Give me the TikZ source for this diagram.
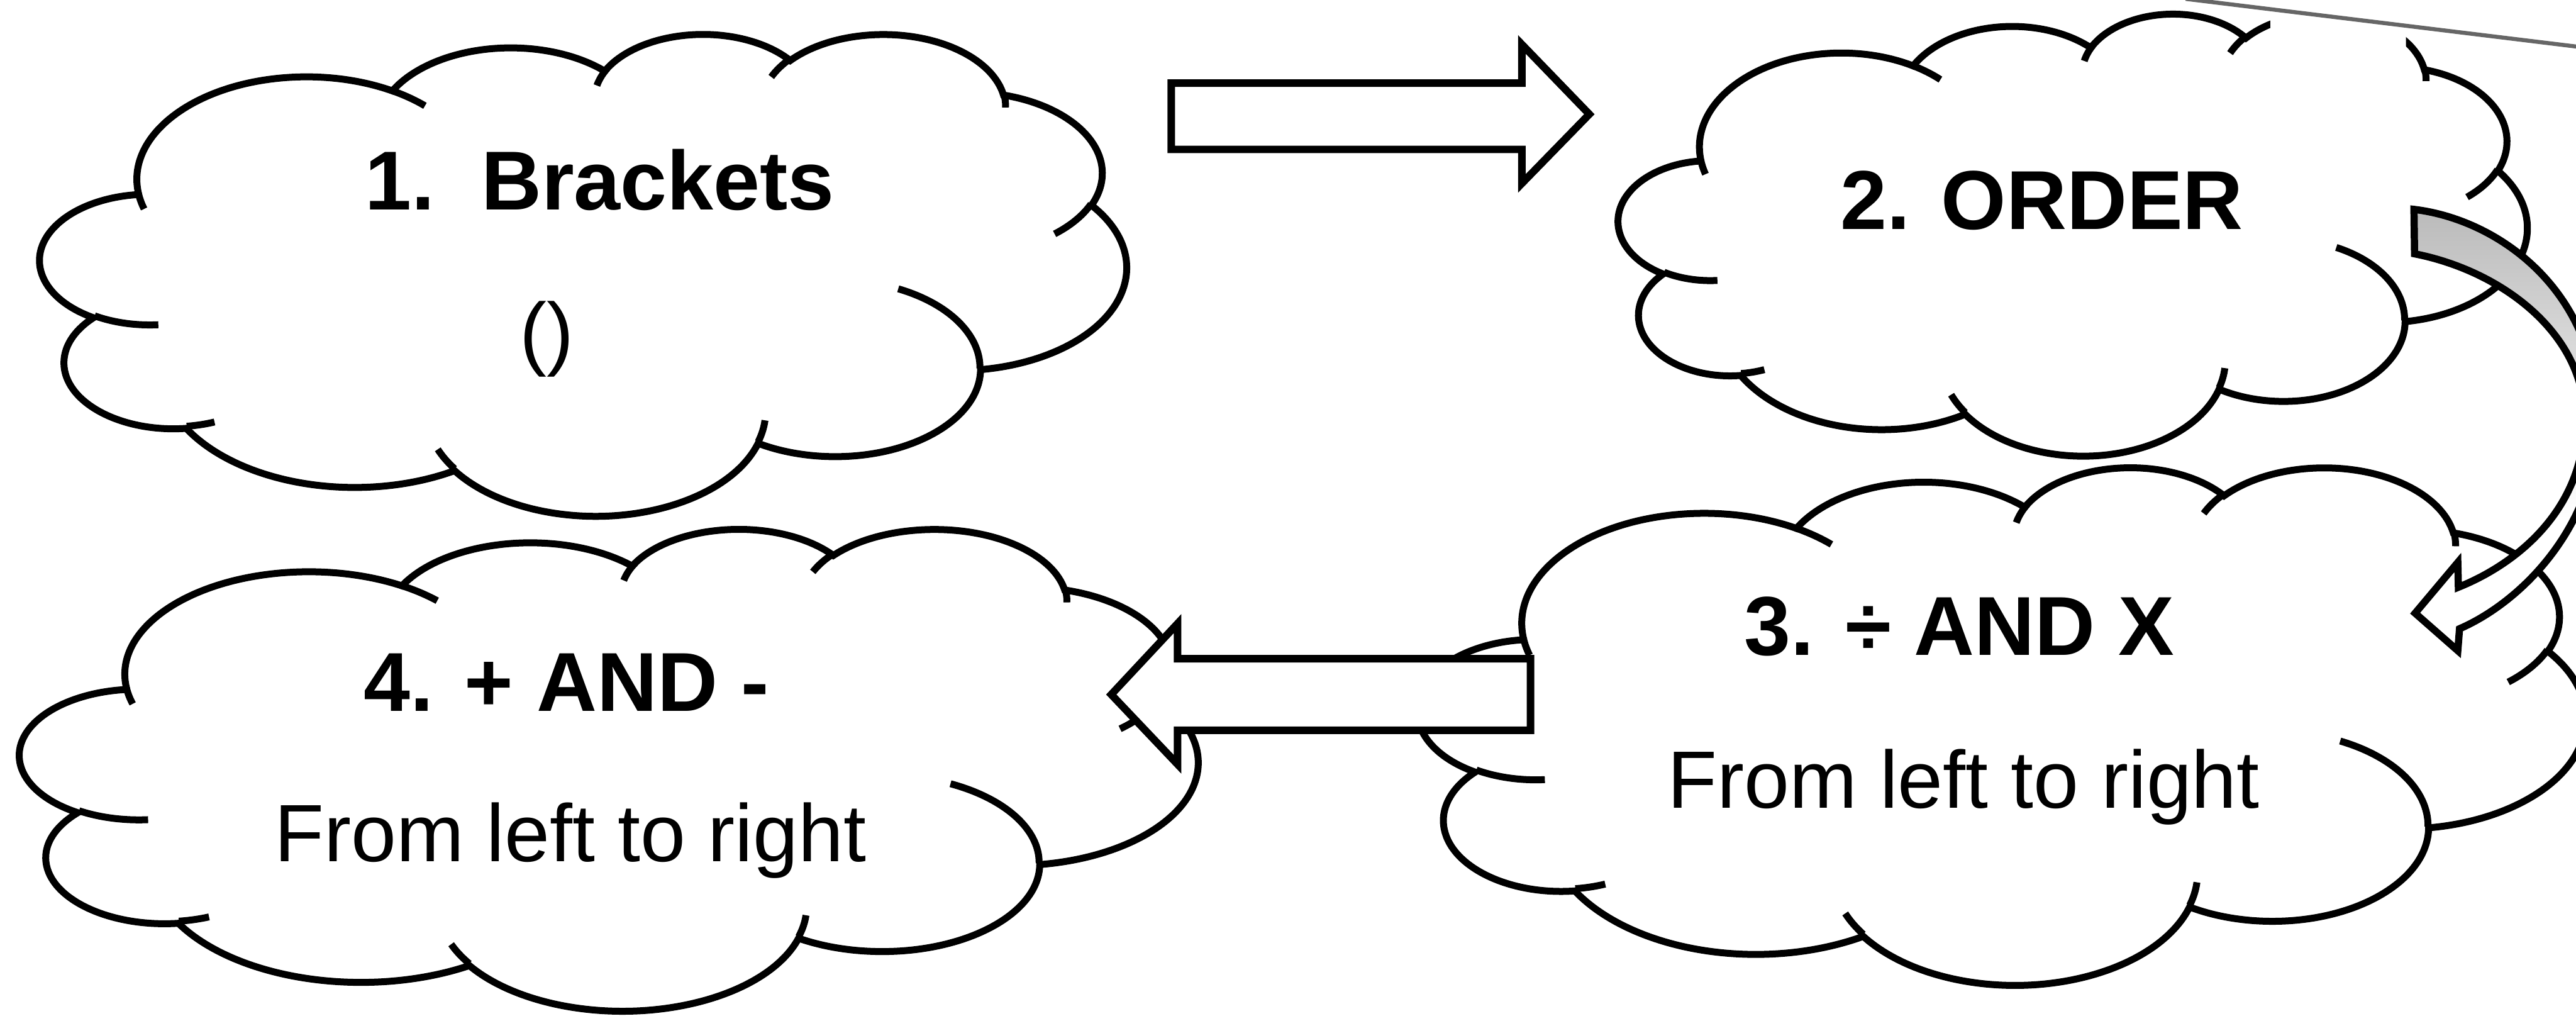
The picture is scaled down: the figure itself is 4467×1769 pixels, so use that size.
\documentclass[tikz,border=0pt]{standalone}
\usepackage{fontspec}
\setmainfont{Liberation Sans}

% Elliptical arc given in "visual" angles (as in DrawingML arcTo):
% #1 x radius, #2 y radius, #3 start angle, #4 sweep (degrees)
\newcommand\ooarc[4]{%
  \pgfmathsetmacro\oost{atan2((#1)*sin(#3),(#2)*cos(#3))}%
  \pgfmathsetmacro\ooen{atan2((#1)*sin((#3)+(#4)),(#2)*cos((#3)+(#4)))}%
  \pgfmathsetmacro\ooen{\oost+mod(\ooen-\oost+720,360)}%
  \pgfpatharc{\oost}{\ooen}{#1pt and #2pt}%
}

% Cloud outline in a 43.2 x 43.2 box (y pointing down)
\newcommand\cloudoutline{%
  \pgfpathmoveto{\pgfpointxy{3.900}{14.370}}%
  \ooarc{6.753}{9.190}{-190.48748}{123.78053}%
  \ooarc{5.333}{7.267}{-144.10238}{89.94523}%
  \ooarc{4.365}{5.945}{-145.80792}{99.72302}%
  \ooarc{4.857}{6.595}{-130.98607}{117.24173}%
  \ooarc{5.333}{7.273}{-78.70888}{109.02692}%
  \ooarc{6.775}{9.220}{-46.26725}{130.26900}%
  \ooarc{5.785}{7.867}{0.62502}{114.03333}%
  \ooarc{6.752}{9.215}{22.45160}{115.17255}%
  \ooarc{7.720}{10.543}{66.24263}{75.71102}%
  \ooarc{4.360}{5.918}{-274.94208}{146.73557}%
  \ooarc{4.345}{5.945}{-246.82850}{152.51885}%
  \pgfpathclose}

% The short inner strokes where the puffs meet
\newcommand\cloudticks{%
  \pgfpathmoveto{\pgfpointxy{4.693}{26.177}}\ooarc{4.345}{5.945}{86.74200}{26.42950}%
  \pgfpathmoveto{\pgfpointxy{6.928}{34.899}}\ooarc{4.360}{5.918}{73.61047}{11.44747}%
  \pgfpathmoveto{\pgfpointxy{16.478}{39.090}}\ooarc{6.752}{9.215}{137.62415}{14.08110}%
  \pgfpathmoveto{\pgfpointxy{28.827}{34.751}}\ooarc{6.752}{9.215}{6.45327}{15.99835}%
  \pgfpathmoveto{\pgfpointxy{34.129}{22.954}}\ooarc{5.785}{7.867}{-70.29235}{70.91737}%
  \pgfpathmoveto{\pgfpointxy{41.798}{15.354}}\ooarc{5.333}{7.273}{30.31803}{27.75150}%
  \pgfpathmoveto{\pgfpointxy{38.324}{5.426}}\ooarc{4.857}{6.595}{-13.74433}{14.85890}%
  \pgfpathmoveto{\pgfpointxy{29.078}{3.952}}\ooarc{4.857}{6.595}{-149.18145}{18.19537}%
  \pgfpathmoveto{\pgfpointxy{22.141}{4.720}}\ooarc{4.365}{5.945}{-163.49427}{19.50482}%
  \pgfpathmoveto{\pgfpointxy{14.000}{5.192}}\ooarc{6.753}{9.190}{-66.70695}{12.31935}%
  \pgfpathmoveto{\pgfpointxy{4.127}{15.789}}\ooarc{6.753}{9.190}{157.65435}{11.85817}%
}

% Curved arrow from the ORDER cloud round to the third cloud
\newcommand\curvarrowpath{(4186,363) .. controls (4330,380) and (4500,500) .. (4505,720)
  .. controls (4510,900) and (4380,1040) .. (4265,1090) -- (4262,1128) -- (4188,1063)
  -- (4262,975) -- (4263,1018) .. controls (4370,975) and (4480,880) .. (4482,730)
  .. controls (4484,580) and (4340,470) .. (4187,440) -- cycle}

\tikzset{
  cloudbody/.style={draw=black, fill=white, line width=12pt},
  cloudtick/.style={draw=black, line width=12pt},
  blockarrow/.style={draw=black, fill=white, line width=13pt, line join=miter},
  curvearrow/.style={draw=black, line width=12.5pt, line join=miter},
  titletext/.style={font=\fontsize{145}{170}\selectfont\bfseries, anchor=base, inner sep=0pt},
  bodytext/.style={font=\fontsize{141}{165}\selectfont, anchor=base, inner sep=0pt},
  scanedge/.style={draw=black!60, line width=7pt},
}

\begin{document}
\begin{tikzpicture}[x=1pt, y=1pt, yscale=-1]
  \useasboundingbox (0,0) rectangle (4467,1769);
  \fill[white] (0,0) rectangle (4467,1769);
  \clip (0,0) rectangle (4467,1769);

  % cloud 1
  \begin{scope}[shift={(70,57)}, xscale=43.588, yscale=19.329]
    \path[cloudbody] \pgfextra{\cloudoutline};
    \path[cloudtick] \pgfextra{\cloudticks};
  \end{scope}
  \node[titletext] (t1) at (1040,364) {1.~~Brackets};
  \node[bodytext] (b1) at (948,624) {()};

  % cloud 2
  \begin{scope}[shift={(2807,22)}, xscale=36.458, yscale=17.731]
    \path[cloudbody] \pgfextra{\cloudoutline};
    \path[cloudtick] \pgfextra{\cloudticks};
  \end{scope}
  \node[titletext] (t2) at (3541,398) {2. ORDER};

  % cloud 3
  \begin{scope}[shift={(2459,808)}, xscale=46.852, yscale=20.764]
    \path[cloudbody] \pgfextra{\cloudoutline};
    \path[cloudtick] \pgfextra{\cloudticks};
  \end{scope}
  \node[titletext] (t3) at (3398,1136) {3. ÷ AND X};
  \node[bodytext] (b3) at (3405,1401) {From left to right};

  % cloud 4
  \begin{scope}[shift={(35,915)}, xscale=47.269, yscale=19.329]
    \path[cloudbody] \pgfextra{\cloudoutline};
    \path[cloudtick] \pgfextra{\cloudticks};
  \end{scope}
  \node[titletext] (t4) at (982,1233) {4. + AND -};
  \node[bodytext] (b4) at (989,1494) {From left to right};

  % straight block arrows
  \path[blockarrow] (2031,144) -- (2639,144) -- (2639,77) -- (2756,198)
    -- (2639,318) -- (2639,259) -- (2031,259) -- cycle;
  \path[blockarrow] (2654,1142) -- (2042,1142) -- (2042,1081) -- (1927,1204)
    -- (2042,1325) -- (2042,1266) -- (2654,1266) -- cycle;

  % curved arrow, shaded towards its tail
  \fill[white] \curvarrowpath;
  \begin{scope}
    \clip \curvarrowpath;
    \shade[top color=black!28, bottom color=white] (4150,340) rectangle (4560,900);
  \end{scope}
  \path[curvearrow] \curvarrowpath;

  % overlapping sheet edge in the corner
  \fill[white] (3937,-5) -- (4172,-5) -- (4172,90) -- (3937,62) -- cycle;
  \path[scanedge] (3790,-2) -- (4470,81);
\end{tikzpicture}
\end{document}
